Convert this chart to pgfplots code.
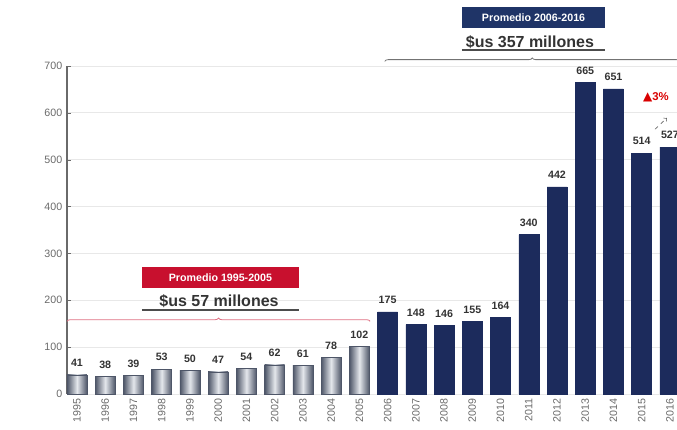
\documentclass[border=0pt]{standalone}
\usepackage{pgfplots}
\pgfplotsset{compat=1.18}
\usepackage{fontspec}
\setmainfont{Liberation Sans}
\newfontfamily\dejavu{DejaVu Sans}
\usetikzlibrary{decorations.pathreplacing}
\definecolor{navy}{HTML}{1C2B5C}
\definecolor{boxnavy}{HTML}{1F3467}
\definecolor{boxred}{HTML}{C8102E}
\definecolor{lightbar}{HTML}{E4E7EC}
\definecolor{lightedge}{HTML}{4E5668}
\definecolor{lbl}{HTML}{333333}
\definecolor{tickgray}{HTML}{6A6A6A}
\pgfplotsset{lb/.style={ybar, bar width=15pt, bar shift=0pt, left color=lightedge, right color=lightedge, middle color=lightbar, draw=lightedge, line width=0.4pt}}
\begin{document}
\begin{tikzpicture}
\begin{axis}[
  name=ax,
  width=457.5pt, height=246pt, scale only axis,
  xmin=-0.354, xmax=21.25, ymin=0, ymax=700,
  ytick={0,100,...,700},
  xtick={0,...,21},
  xticklabels={1995,1996,1997,1998,1999,2000,2001,2002,2003,2004,2005,2006,2007,2008,2009,2010,2011,2012,2013,2014,2015,2016},
  x tick label style={rotate=90, anchor=east, font=\fontsize{8}{9}\selectfont, color=tickgray},
  y tick label style={font=\fontsize{8}{9}\selectfont, color=tickgray},
  /pgf/number format/assume math mode=true,
  axis x line*=bottom, axis y line*=left,
  x axis line style={draw=none},
  y axis line style={color=tickgray, line width=0.8pt},
  major x tick style={draw=none},
  major y tick style={color=tickgray},
  tick align=inside, major tick length=3pt,
  ymajorgrids, grid style={color=black!9, line width=0.6pt},
  clip=false,
  nodes near coords,
  every node near coord/.append style={font=\bfseries\fontsize{8}{9}\selectfont, color=lbl, anchor=south, yshift=2.5pt},
]
\addplot[lb] coordinates {(0,41)};
\addplot[lb] coordinates {(1,38)};
\addplot[lb] coordinates {(2,39)};
\addplot[lb] coordinates {(3,53)};
\addplot[lb] coordinates {(4,50)};
\addplot[lb] coordinates {(5,47)};
\addplot[lb] coordinates {(6,54)};
\addplot[lb] coordinates {(7,62)};
\addplot[lb] coordinates {(8,61)};
\addplot[lb] coordinates {(9,78)};
\addplot[lb] coordinates {(10,102)};
\addplot[ybar, bar width=15pt, bar shift=0pt, fill=navy, draw=navy] coordinates {
(11,175) (12,148) (13,146) (14,155) (15,164) (16,340) (17,442) (18,665) (19,651) (20,514) (21,527)};

% top annotation
\node[fill=boxnavy, text=white, font=\bfseries\fontsize{8}{9}\selectfont, minimum width=107pt, minimum height=15.75pt, inner sep=0pt] at (axis cs:16.17,803.5) {Promedio 2006-2016};
\node[font=\bfseries\fontsize{12}{13}\selectfont, text=lbl] at (axis cs:16.04,751) {\$us 357 millones};
\draw[color=black!70, line width=1.1pt] (axis cs:13.63,734) -- (axis cs:18.70,734);
\draw[color=black!55, line width=0.6pt, decorate, decoration={brace, amplitude=2.5pt}] (axis cs:10.9,710) -- (axis cs:21.35,710);

% bottom annotation
\node[fill=boxred, text=white, font=\bfseries\fontsize{8}{9}\selectfont, minimum width=117.75pt, minimum height=15.75pt, inner sep=0pt] at (axis cs:5.08,248.6) {Promedio 1995-2005};
\node[font=\bfseries\fontsize{12}{13}\selectfont, text=lbl] at (axis cs:5.03,198.5) {\$us 57 millones};
\draw[color=black!70, line width=1.1pt] (axis cs:2.30,179) -- (axis cs:7.86,179);
\draw[color=boxred!60, line width=0.6pt, decorate, decoration={brace, amplitude=2.5pt}] (axis cs:-0.354,155) -- (axis cs:10.38,155);

% growth note
\node[text=red!85!black, font=\bfseries\fontsize{8.5}{9}\selectfont] at (axis cs:20.5,634) {{\dejavu\fontsize{9}{9}\selectfont ▲}3\%};
\draw[dashed, ->, color=black!60, line width=0.5pt] (axis cs:20.47,565) -- (axis cs:20.89,589);
\end{axis}
\pgfresetboundingbox
\path[use as bounding box] ([xshift=-50.25pt,yshift=-27pt]ax.south west) rectangle ([yshift=49.5pt]ax.north east);
\end{tikzpicture}
\end{document}
